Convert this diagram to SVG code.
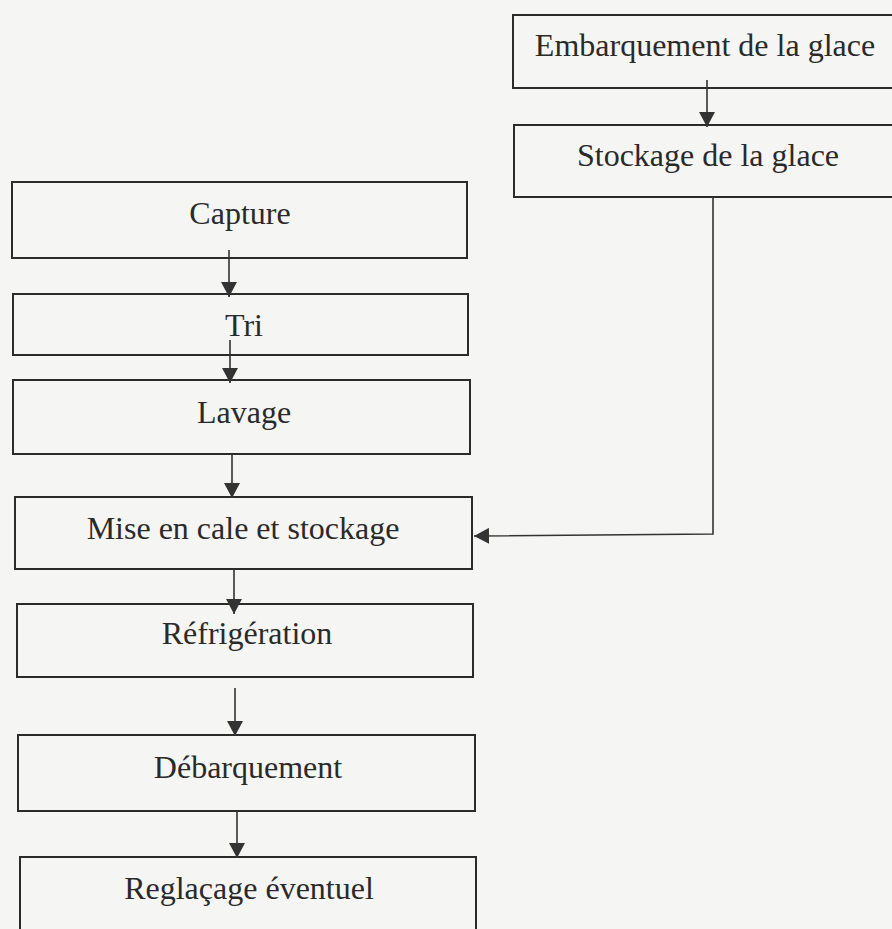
<svg xmlns="http://www.w3.org/2000/svg" width="892" height="929" viewBox="0 0 892 929">
<style>
.box{fill:none;stroke:#2b2b2b;stroke-width:2}
.lbl{font-family:"Liberation Serif","Times New Roman",serif;font-size:32px;fill:#2a2a2a;text-anchor:middle}
.con{fill:none;stroke:#333;stroke-width:1.6}
</style>
<defs>
<marker id="ah" viewBox="0 0 15 16" refX="15" refY="8" markerWidth="15" markerHeight="16" markerUnits="userSpaceOnUse" orient="auto">
<path d="M0,0 L15,8 L0,16 Z" fill="#333"/>
</marker>
</defs>
<rect x="0" y="0" width="892" height="929" fill="#f5f6f4"/>
<g id="n-embarquement"><rect class="box" x="513" y="15" width="390" height="73"/><text class="lbl" x="705" y="56">Embarquement de la glace</text></g>
<g id="n-stockage-glace"><rect class="box" x="514" y="125" width="390" height="72"/><text class="lbl" x="708" y="166">Stockage de la glace</text></g>
<g id="n-capture"><rect class="box" x="12" y="182" width="455" height="76"/><text class="lbl" x="240" y="224">Capture</text></g>
<g id="n-tri"><rect class="box" x="13" y="294" width="455" height="61"/><text class="lbl" x="244" y="336">Tri</text></g>
<g id="n-lavage"><rect class="box" x="13" y="380" width="457" height="74"/><text class="lbl" x="244" y="423">Lavage</text></g>
<g id="n-mise"><rect class="box" x="15" y="497" width="457" height="72"/><text class="lbl" x="243" y="539">Mise en cale et stockage</text></g>
<g id="n-refrigeration"><rect class="box" x="17" y="604" width="456" height="73"/><text class="lbl" x="247" y="644">Réfrigération</text></g>
<g id="n-debarquement"><rect class="box" x="18" y="735" width="457" height="76"/><text class="lbl" x="248" y="778">Débarquement</text></g>
<g id="n-reglacage"><rect class="box" x="20" y="857" width="456" height="90"/><text class="lbl" x="249" y="899">Reglaçage éventuel</text></g>
<g id="connectors">
<line class="con" x1="707" y1="80" x2="707" y2="127" marker-end="url(#ah)"/>
<polyline class="con" points="713,197 713,534 474,536" marker-end="url(#ah)"/>
<line class="con" x1="229" y1="250" x2="229" y2="297" marker-end="url(#ah)"/>
<line class="con" x1="230" y1="340" x2="230" y2="383" marker-end="url(#ah)"/>
<line class="con" x1="232" y1="454" x2="232" y2="498" marker-end="url(#ah)"/>
<line class="con" x1="234" y1="569" x2="234" y2="614" marker-end="url(#ah)"/>
<line class="con" x1="235" y1="688" x2="235" y2="736" marker-end="url(#ah)"/>
<line class="con" x1="237" y1="811" x2="237" y2="858" marker-end="url(#ah)"/>
</g>
</svg>
